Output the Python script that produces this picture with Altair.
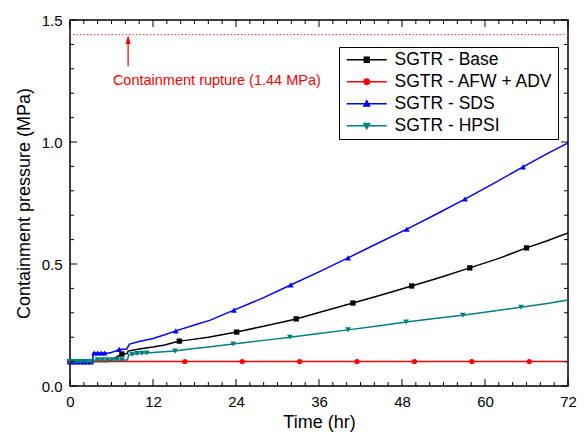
import altair as alt
import pandas as pd

W, H = 498, 366
FONT = "Liberation Sans"

SERIES = ["SGTR - Base", "SGTR - AFW + ADV", "SGTR - SDS", "SGTR - HPSI"]
COLORS = ["#000000", "#ff0000", "#0000ff", "#008080"]
SHAPES = ["square", "circle", "triangle-up", "triangle-down"]
MSIZES = [28, 28, 34, 34]
LEGEND_PATHS = [
    "M-1,0H7M2.5,-0.5H3.5V0.5H2.5Z",
    "M-1,0H7M2.45,0A0.55,0.55 0 1,0 3.55,0A0.55,0.55 0 1,0 2.45,0Z",
    "M-1,0H7M3,-0.65L3.6,0.45H2.4Z",
    "M-1,0H7M3,0.65L3.6,-0.45H2.4Z",
]

# --- SGTR - Base
base_t = [0, 1, 2, 3, 4, 5, 5.5, 6.5, 7.5, 8.3, 8.4, 10, 12, 13.7, 15.8, 17, 20, 24.1,
          28, 32.7, 36.5, 40.9, 45, 49.4, 53.5, 57.8, 62, 66, 69, 72]
base_p = [0.1, 0.1, 0.1, 0.1, 0.1, 0.1, 0.1, 0.115, 0.131, 0.133, 0.143, 0.152, 0.16, 0.168,
          0.184, 0.188, 0.2, 0.221, 0.245, 0.275, 0.305, 0.34, 0.373, 0.41, 0.445, 0.484,
          0.523, 0.566, 0.595, 0.627]
base_mt = [0, 0.5, 1.0, 1.5, 2.0, 2.5, 3.0, 7.5, 15.8, 24.1, 32.7, 40.9, 49.4, 57.8, 66]
base_mp = [0.1, 0.1, 0.1, 0.1, 0.1, 0.1, 0.1, 0.131, 0.184, 0.221, 0.275, 0.34, 0.41, 0.484, 0.566]

# --- SGTR - AFW + ADV
afw_t = [0, 72]
afw_p = [0.1, 0.1]
afw_mt = [0, 0.5, 1.0, 1.5, 2.0, 2.5, 3.0, 16.6, 24.9, 33.2, 41.5, 49.8, 58.1, 66.4]
afw_mp = [0.1, 0.1, 0.1, 0.1, 0.1, 0.1, 0.1, 0.1, 0.1, 0.1, 0.1, 0.1, 0.1, 0.1]

# --- SGTR - SDS
sds_t = [0, 3.3, 3.35, 5.8, 7.2, 8.2, 8.6, 10, 12, 13.7, 15.3, 18, 20.3, 23.7, 28, 31.9,
         36, 40.2, 44.5, 48.7, 53, 57.1, 61, 65.5, 69, 72]
sds_p = [0.1, 0.1, 0.135, 0.135, 0.15, 0.152, 0.172, 0.182, 0.195, 0.21, 0.226, 0.25, 0.27,
         0.311, 0.362, 0.414, 0.468, 0.525, 0.585, 0.643, 0.705, 0.766, 0.826, 0.898, 0.952, 0.996]
sds_mt = [0, 0.5, 1.0, 1.5, 2.0, 2.5, 3.0, 3.5, 4.0, 4.5, 5.0, 7.1, 15.3, 23.7, 31.9, 40.2,
          48.7, 57.1, 65.5]
sds_mp = [0.1, 0.1, 0.1, 0.1, 0.1, 0.1, 0.1, 0.135, 0.135, 0.135, 0.135, 0.15, 0.226, 0.311,
          0.414, 0.525, 0.643, 0.766, 0.898]

# --- SGTR - HPSI
hpsi_t = [0, 3.5, 3.6, 8.3, 8.5, 10, 12, 13, 15.2, 17, 20, 23.6, 28, 31.8, 36, 40.2, 44.5,
          48.6, 53, 56.8, 61, 65.2, 69, 72]
hpsi_p = [0.1, 0.1, 0.107, 0.107, 0.128, 0.133, 0.137, 0.139, 0.143, 0.151, 0.16, 0.172,
          0.187, 0.2, 0.215, 0.23, 0.246, 0.262, 0.278, 0.29, 0.306, 0.323, 0.338, 0.352]
hpsi_mt = [0, 0.5, 1.0, 1.5, 2.0, 2.5, 3.0, 4.0, 4.7, 5.4, 6.1, 6.8, 7.5, 9.0, 9.7, 10.4,
           11.1, 15.2, 23.6, 31.8, 40.2, 48.6, 56.8, 65.2]
hpsi_mp = [0.1, 0.1, 0.1, 0.1, 0.1, 0.1, 0.1, 0.107, 0.107, 0.107, 0.107, 0.107, 0.107,
           0.13, 0.133, 0.134, 0.135, 0.143, 0.172, 0.2, 0.23, 0.262, 0.29, 0.323]

# --- annotation
RUPTURE_P = 1.44
RUPTURE_TEXT = "Containment rupture (1.44 MPa)"
arrow_t = [8.4]
arrow_p0 = [1.31]
arrow_p1 = [1.42]
label_t = [6.2]
label_p = [1.25]

# --- ticks
X_LABELS = [0, 12, 24, 36, 48, 60, 72]
X_MINOR = [2, 4, 6, 8, 10, 14, 16, 18, 20, 22, 26, 28, 30, 32, 34, 38, 40, 42, 44, 46,
           50, 52, 54, 56, 58, 62, 64, 66, 68, 70]
Y_LABELS = [0.0, 0.5, 1.0, 1.5]
Y_MINOR = [0.1, 0.2, 0.3, 0.4, 0.6, 0.7, 0.8, 0.9, 1.1, 1.2, 1.3, 1.4]

xscale = alt.Scale(domain=[0, 72], nice=False, zero=False)
yscale = alt.Scale(domain=[0, 1.5], nice=False, zero=False)

xaxis = alt.Axis(values=X_LABELS, ticks=False, tickSize=0, domain=False, grid=False,
                 labelFontSize=15, labelFont=FONT, labelColor="black", labelPadding=8,
                 labelFlush=False, title="Time (hr)", titleFont=FONT, titleFontSize=18,
                 titleFontWeight="normal", titleColor="black", titlePadding=4)
yaxis = alt.Axis(values=Y_LABELS, format=".1f", ticks=False, tickSize=0, domain=False,
                 grid=False, labelFontSize=15, labelFont=FONT, labelColor="black",
                 labelPadding=8, labelFlush=False, title="Containment pressure (MPa)",
                 titleFont=FONT, titleFontSize=18, titleFontWeight="normal",
                 titleColor="black", titlePadding=8)


def X(field):
    return alt.X(field, type="quantitative", scale=xscale, axis=xaxis)


def Y(field):
    return alt.Y(field, type="quantitative", scale=yscale, axis=yaxis)


series_data = [
    (base_t, base_p, base_mt, base_mp),
    (afw_t, afw_p, afw_mt, afw_mp),
    (sds_t, sds_p, sds_mt, sds_mp),
    (hpsi_t, hpsi_p, hpsi_mt, hpsi_mp),
]

layers = []

# series
for name, color, shape, msize, (lt, lp, mt, mp) in zip(SERIES, COLORS, SHAPES, MSIZES, series_data):
    ldf = pd.DataFrame({"t": lt, "p": lp})
    mdf = pd.DataFrame({"t": mt, "p": mp})
    line = alt.Chart(ldf).mark_line(color=color, strokeWidth=1.5, clip=True).encode(
        x=X("t"), y=Y("p"))
    pts = alt.Chart(mdf).mark_point(shape=shape, size=msize, filled=True, color=color,
                                    opacity=1, strokeWidth=0).encode(x=X("t"), y=Y("p"))
    layers += [line, pts]


# frame ticks (inward)
def xticks(vals, length):
    d = pd.DataFrame({"t": vals})
    bot = alt.Chart(d).mark_rule(color="black", strokeWidth=1).encode(
        x=X("t"), y=alt.value(H), y2=alt.value(H - length))
    top = alt.Chart(d).mark_rule(color="black", strokeWidth=1).encode(
        x=X("t"), y=alt.value(0), y2=alt.value(length))
    return [bot, top]


def yticks(vals, length):
    d = pd.DataFrame({"p": vals})
    lft = alt.Chart(d).mark_rule(color="black", strokeWidth=1).encode(
        y=Y("p"), x=alt.value(0), x2=alt.value(length))
    rgt = alt.Chart(d).mark_rule(color="black", strokeWidth=1).encode(
        y=Y("p"), x=alt.value(W), x2=alt.value(W - length))
    return [lft, rgt]


layers += xticks(X_LABELS, 7) + xticks(X_MINOR, 4) + yticks(Y_LABELS, 7) + yticks(Y_MINOR, 4)

# rupture line and annotation
rup = alt.Chart(pd.DataFrame({"p": [RUPTURE_P]})).mark_rule(
    color="#ff3030", strokeWidth=1, strokeDash=[1.5, 2]).encode(y=Y("p"))
ann = pd.DataFrame({"t": arrow_t, "p": arrow_p0, "p1": arrow_p1})
stem = alt.Chart(ann).mark_rule(color="#ff0000", strokeWidth=1.2).encode(
    x=X("t"), y=Y("p"), y2="p1")
ann2 = pd.DataFrame({"t": arrow_t, "p": arrow_p1})
head = alt.Chart(ann2).mark_point(shape="M0,-1L0.55,1H-0.55Z", size=81, filled=True,
                                  color="#ff0000", opacity=1, strokeWidth=0).encode(
    x=X("t"), y=Y("p"))
txt = alt.Chart(pd.DataFrame({"t": label_t, "p": label_p, "s": [RUPTURE_TEXT]})).mark_text(
    align="left", baseline="middle", font=FONT, fontSize=14.5, color="#ff0000").encode(
    x=X("t"), y=Y("p"), text="s:N")
layers += [rup, stem, head, txt]

# legend layer (no visible marks, legend from explicit domains)
leg = alt.Legend(title=None, orient="none", legendX=269, legendY=27, padding=4,
                 strokeColor="black", fillColor="white", labelFont=FONT,
                 labelFontSize=17.5, labelColor="black", symbolSize=100,
                 symbolStrokeWidth=1.3, rowPadding=3, labelOffset=34, symbolOpacity=1)
legend_layer = alt.Chart(pd.DataFrame({"series": SERIES})).transform_filter("false").mark_point(
    opacity=1).encode(
    fill=alt.Fill("series:N", scale=alt.Scale(domain=SERIES, range=COLORS), legend=leg),
    stroke=alt.Stroke("series:N", scale=alt.Scale(domain=SERIES, range=COLORS), legend=leg),
    shape=alt.Shape("series:N", scale=alt.Scale(domain=SERIES, range=LEGEND_PATHS), legend=leg),
)
layers.append(legend_layer)

chart = alt.layer(*layers).properties(
    width=W, height=H,
    autosize=alt.AutoSizeParams(type="none"),
    padding={"left": 62, "top": 12, "right": 10, "bottom": 50},
    background="white",
).configure_view(stroke="black", strokeWidth=1.5)

chart.save("out.html", embed_options={"renderer": "svg", "actions": False})
